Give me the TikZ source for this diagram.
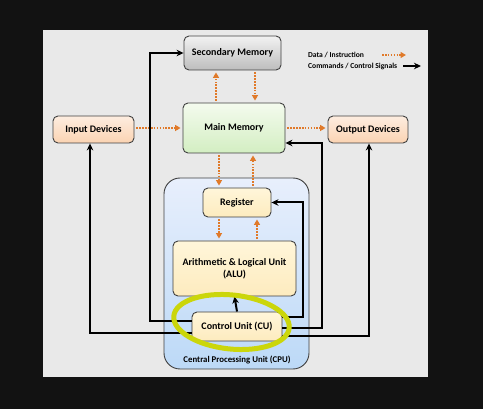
\documentclass[tikz,border=0pt]{standalone}
\usepackage{fontspec}
\setmainfont{Carlito}
\usetikzlibrary{arrows.meta}
\definecolor{panelgray}{HTML}{E9E9E9}
\definecolor{dataorange}{HTML}{E07A2A}
\definecolor{hilite}{HTML}{CBD60A}
\definecolor{cputop}{HTML}{E8EFFC}
\definecolor{cpubot}{HTML}{BCD9F7}
\definecolor{unittop}{HTML}{FFF6DA}
\definecolor{unitbot}{HTML}{FDEBBE}
\definecolor{devtop}{HTML}{FDEDE0}
\definecolor{devbot}{HTML}{FBD3B2}
\definecolor{mmtop}{HTML}{F4FBEE}
\definecolor{mmbot}{HTML}{D3EEC2}
\definecolor{smtop}{HTML}{F2F2F2}
\definecolor{smbot}{HTML}{BDBDBD}
\begin{document}
\begin{tikzpicture}[x=1pt,y=-1pt,
  box/.style={draw=black!75,line width=0.9pt,rounded corners=5pt,inner sep=0pt,align=center,font=\bfseries\fontsize{10}{12}\selectfont},
  unitbox/.style={box,top color=unittop,bottom color=unitbot},
  devbox/.style={box,top color=devtop,bottom color=devbot},
  data/.style={dataorange,line width=1.8pt,dash pattern=on 1.6pt off 1.3pt,shorten <=2pt,shorten >=2pt,-{Triangle[length=5.5pt,width=6pt]}},
  ctrl/.style={black,line width=2pt,-{Stealth[length=7pt,width=6.5pt]}}]
\fill[black!93] (0,0) rectangle (483,409);
\useasboundingbox (0,0) rectangle (483,409);
\fill[panelgray] (43,30) rectangle (428,377);
% cpu
\node[box,rounded corners=16pt,minimum width=145pt,minimum height=191pt,top color=cputop,bottom color=cpubot] (cpu) at (236.5,273.5) {};
\node[font=\bfseries\fontsize{8.8}{10}\selectfont,anchor=base] (cpulbl) at (237,362.5) {Central Processing Unit (CPU)};
% boxes
\node[box,minimum width=97pt,minimum height=34pt,top color=smtop,bottom color=smbot] (sm) at (232.5,53) {Secondary Memory};
\node[box,minimum width=102pt,minimum height=50pt,top color=mmtop,bottom color=mmbot] (mm) at (234,128) {Main Memory};
\node[devbox,minimum width=81pt,minimum height=27pt] (in) at (93.5,129.5) {Input Devices};
\node[devbox,minimum width=80pt,minimum height=27pt] (out) at (368,129.5) {Output Devices};
\node[unitbox,minimum width=68pt,minimum height=29pt] (reg) at (237,202.5) {Register};
\node[unitbox,minimum width=123pt,minimum height=55pt] (alu) at (234.5,268.5) {Arithmetic \& Logical Unit\\(ALU)};
\node[unitbox,minimum width=90pt,minimum height=29pt] (cu) at (237,326.5) {Control Unit (CU)};
% legend
\node[font=\bfseries\fontsize{7.6}{9}\selectfont,anchor=west,inner sep=0pt] (lgdata) at (308,55) {Data / Instruction};
\node[font=\bfseries\fontsize{7.6}{9}\selectfont,anchor=west,inner sep=0pt] (lgctrl) at (308,66) {Commands / Control Signals};
\coordinate (dataend) at (406,55);
\coordinate (ctrlend) at (421,66);
\draw[data,line width=1.6pt,shorten <=0pt,shorten >=0pt] (382,55) -- (dataend);
\draw[ctrl,line width=1.6pt] (403,66) -- (ctrlend);
% data flow
\draw[data] (in.east |- mm.west) -- (mm.west);
\draw[data] (mm.east) -- (out.west |- mm.east);
\draw[data] ([xshift=-18pt]mm.north) -- ([xshift=-18pt]mm.north |- sm.south);
\draw[data] ([xshift=21pt]mm.north |- sm.south) -- ([xshift=21pt]mm.north);
\draw[data] ([xshift=-15pt]mm.south) -- ([xshift=-15pt]mm.south |- reg.north);
\draw[data] ([xshift=19pt]mm.south |- reg.north) -- ([xshift=19pt]mm.south);
\draw[data] ([xshift=-18pt]reg.south) -- ([xshift=-18pt]reg.south |- alu.north);
\draw[data] ([xshift=20pt]reg.south |- alu.north) -- ([xshift=20pt]reg.south);
% control signals
\draw[ctrl] (cu.north) -- (alu.south);
\draw[ctrl] ([yshift=-6.5pt]cu.west) -| ([xshift=-3.5pt]in.south);
\draw[ctrl] ([yshift=5.5pt]cu.west) -- ++(-42,0) |- (sm.west);
\draw[ctrl] ([yshift=9.5pt]cu.east) -- ++(21,0) |- (reg.east);
\draw[ctrl] ([yshift=-1.5pt]cu.east) -- ++(40,0) |- ([yshift=-15pt]mm.east);
\draw[ctrl] ([yshift=-9.5pt]cu.east) -| ([xshift=1pt]out.south);
% highlight
\draw[hilite,line width=5pt] (231.5,322) ellipse [x radius=58pt,y radius=27pt,rotate=-6];
\end{tikzpicture}
\end{document}
